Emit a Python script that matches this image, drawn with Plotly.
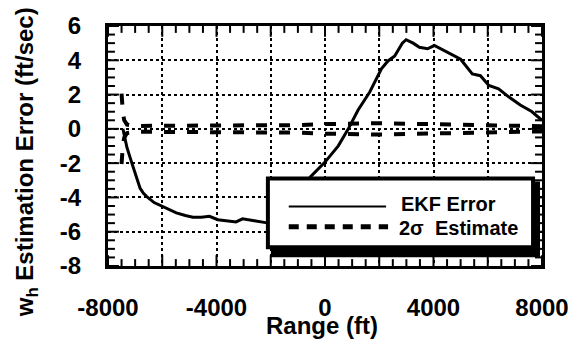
import plotly.graph_objects as go

# ---- data ----
range_ft = [-7450, -7300, -7120, -6950, -6820, -6700, -6570, -6300, -6025, -5750,
            -5480, -5150, -4870, -4560, -4260, -3950, -3650, -3280, -3040, -2800,
            -2550, -2190, -1800, -1400, -1000, -540, 0, 490, 860, 1220,
            1650, 2080, 2320, 2570, 2850, 2990, 3250, 3480, 3780, 4030,
            4300, 4640, 5000, 5430, 5730, 6040, 6400, 6770, 7200, 7620, 8000]
ekf_error = [0.0, -1.1, -2.0, -2.8, -3.45, -3.75, -3.95, -4.3, -4.5, -4.7,
             -4.9, -5.05, -5.15, -5.15, -5.1, -5.3, -5.37, -5.43, -5.25, -5.3,
             -5.37, -5.47, -5.5, -5.1, -4.2, -2.8, -1.94, -0.99, 0.0, 1.1,
             2.15, 3.5, 3.96, 4.25, 5.0, 5.2, 5.0, 4.76, 4.67, 4.86,
             4.65, 4.38, 4.06, 3.2, 3.1, 2.53, 2.34, 1.87, 1.39, 1.01, 0.5]

sigma_range = [-7500, -7480, -7450, -7400, -7300, -7000, -6000, -4000, -2000, -1000,
               0, 1000, 2000, 3000, 4000, 5000, 6000, 7000, 8000]
two_sigma = [2.05, 1.5, 0.9, 0.5, 0.25, 0.17, 0.17, 0.17, 0.18, 0.22,
             0.28, 0.33, 0.33, 0.3, 0.27, 0.25, 0.2, 0.17, 0.15]
neg_two_sigma = [-v for v in two_sigma]

x_label_vals = [-8000, -4000, 0, 4000, 8000]
x_label_text = ["-8000", "-4000", "0", "4000", "8000"]
y_label_vals = [-8, -6, -4, -2, 0, 2, 4, 6]
y_label_text = ["-8", "-6", "-4", "-2", "0", "2", "4", "6"]

# tick positions (major every 2000 ft / 2 ft/s, minor every 500 ft / 0.5 ft/s)
x_tick_positions = list(range(-8000, 8001, 500))
y_tick_positions = [v / 2 for v in range(-16, 13)]

FONT = "Liberation Sans, Arial, sans-serif"
X_RANGE = [-8000, 8000]
Y_RANGE = [-8, 6]

W, H = 581, 347
L, R, T, B = 108, 545, 22, 266
pw, ph = R - L, B - T

# tick lengths in pixels converted to data units
MAJ, MIN = 11, 7
x_span = X_RANGE[1] - X_RANGE[0]
y_span = Y_RANGE[1] - Y_RANGE[0]

tx, ty = [], []
for xv in x_tick_positions:
    ln = (MAJ if xv % 2000 == 0 else MIN) * y_span / ph
    tx += [xv, xv, None, xv, xv, None]
    ty += [Y_RANGE[0], Y_RANGE[0] + ln, None, Y_RANGE[1], Y_RANGE[1] - ln, None]
for yv in y_tick_positions:
    ln = (MAJ if yv % 2 == 0 else MIN) * x_span / pw
    tx += [X_RANGE[0], X_RANGE[0] + ln, None, X_RANGE[1], X_RANGE[1] - ln, None]
    ty += [yv, yv, None, yv, yv, None]

fig = go.Figure()
fig.add_trace(go.Scatter(x=tx, y=ty, mode="lines", connectgaps=False,
                         line=dict(color="black", width=2),
                         showlegend=False, hoverinfo="skip", cliponaxis=False))
dash_pat = "11px,12px"
fig.add_trace(go.Scatter(x=sigma_range, y=two_sigma, mode="lines",
                         line=dict(color="black", width=4, dash=dash_pat),
                         showlegend=False, hoverinfo="skip"))
fig.add_trace(go.Scatter(x=sigma_range, y=neg_two_sigma, mode="lines",
                         line=dict(color="black", width=4, dash=dash_pat),
                         showlegend=False, hoverinfo="skip"))
fig.add_trace(go.Scatter(x=range_ft, y=ekf_error, mode="lines",
                         line=dict(color="black", width=3),
                         showlegend=False))
# invisible trace on the label-carrying overlay axes
fig.add_trace(go.Scatter(x=X_RANGE, y=Y_RANGE, xaxis="x2", yaxis="y2",
                         mode="markers", marker=dict(opacity=0),
                         showlegend=False, hoverinfo="skip"))


def px(xp):
    return (xp - L) / pw


def py(yp):
    return (B - yp) / ph


tickfont = dict(family=FONT, size=24, color="black", weight="bold")

main_common = dict(
    showline=True, linecolor="black", linewidth=2.5, mirror=True,
    ticks="", showgrid=True, gridcolor="black", gridwidth=1.5, griddash="dot",
    zeroline=False, showticklabels=False, tickmode="linear",
)
label_common = dict(
    ticks="outside", tickcolor="rgba(0,0,0,0)", showgrid=False,
    showline=False, zeroline=False, tickfont=tickfont, tickmode="array",
)

fig.update_layout(
    xaxis=dict(range=X_RANGE, tick0=-8000, dtick=2000, **main_common),
    yaxis=dict(range=Y_RANGE, tick0=-8, dtick=2, **main_common),
    xaxis2=dict(range=X_RANGE, overlaying="x", side="bottom", anchor="y2",
                tickvals=x_label_vals, ticktext=x_label_text, ticklen=20,
                **label_common),
    yaxis2=dict(range=Y_RANGE, overlaying="y", side="left", anchor="x2",
                tickvals=y_label_vals, ticktext=y_label_text, ticklen=21,
                **label_common),
)

shapes = [
    # legend shadow
    dict(type="rect", xref="paper", yref="paper",
         x0=px(272), x1=px(543), y0=py(257), y1=py(180),
         fillcolor="black", line=dict(width=0), layer="above"),
    # legend box
    dict(type="rect", xref="paper", yref="paper",
         x0=px(269), x1=px(536), y0=py(247), y1=py(177),
         fillcolor="white", line=dict(color="black", width=4), layer="above"),
    # legend samples
    dict(type="line", xref="paper", yref="paper",
         x0=px(290), x1=px(388), y0=py(205.5), y1=py(205.5),
         line=dict(color="black", width=2), layer="above"),
    dict(type="line", xref="paper", yref="paper",
         x0=px(290), x1=px(390), y0=py(226), y1=py(226),
         line=dict(color="black", width=5, dash="10px,8px"), layer="above"),
]

annotations = [
    dict(text="EKF Error", xref="paper", yref="paper", x=px(401), y=py(203),
         xanchor="left", yanchor="middle", showarrow=False,
         font=dict(family=FONT, size=20, color="black", weight="bold")),
    dict(text="2σ  Estimate", xref="paper", yref="paper", x=px(399), y=py(227),
         xanchor="left", yanchor="middle", showarrow=False,
         font=dict(family=FONT, size=20, color="black", weight="bold")),
    dict(text="Range (ft)", xref="paper", yref="paper", x=px(323), y=py(326),
         xanchor="center", yanchor="middle", showarrow=False,
         font=dict(family=FONT, size=24, color="black", weight="bold")),
    dict(text="w<sub>h</sub> Estimation Error (ft/sec)", xref="paper", yref="paper",
         x=px(26), y=py(161), textangle=-90,
         xanchor="center", yanchor="middle", showarrow=False,
         font=dict(family=FONT, size=24, color="black", weight="bold")),
]

fig.update_layout(
    width=W, height=H,
    margin=dict(l=L, r=W - R, t=T, b=H - B, pad=0),
    paper_bgcolor="white", plot_bgcolor="white",
    shapes=shapes, annotations=annotations,
    showlegend=False,
)

fig.write_html("out.html")
